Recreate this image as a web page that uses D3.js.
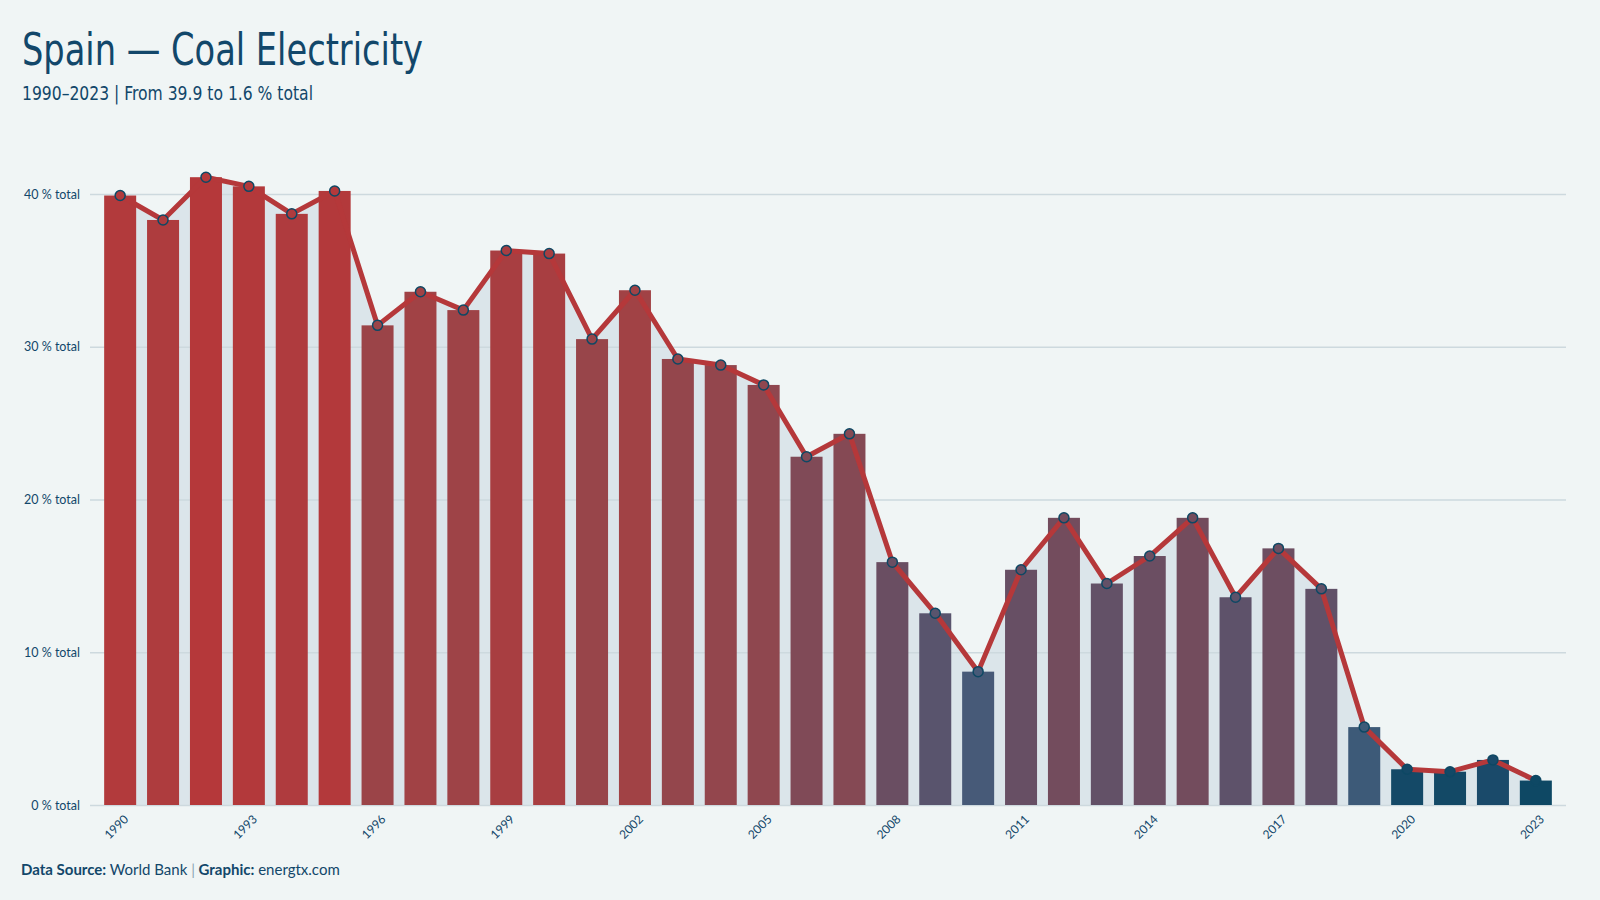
<!DOCTYPE html>
<html>
<head>
<meta charset="utf-8">
<script src="https://cdn.jsdelivr.net/npm/d3@7"></script>
<style>
  html, body { margin: 0; padding: 0; background: #f0f5f5; }
  svg { display: block; }
</style>
</head>
<body>
<svg id="chart" width="1600" height="900"></svg>
<script>
const years = [1990,1991,1992,1993,1994,1995,1996,1997,1998,1999,2000,2001,2002,2003,2004,2005,2006,2007,2008,2009,2010,2011,2012,2013,2014,2015,2016,2017,2018,2019,2020,2021,2022,2023];
const coalShare = [39.9,38.3,41.1,40.5,38.7,40.2,31.4,33.6,32.4,36.3,36.1,30.5,33.7,29.2,28.8,27.5,22.8,24.3,15.9,12.55,8.73,15.4,18.8,14.5,16.3,18.8,13.6,16.8,14.15,5.1,2.34,2.18,2.95,1.6];
const yTicks = [0,10,20,30,40];
const xTickYears = [1990,1993,1996,1999,2002,2005,2008,2011,2014,2017,2020,2023];
const titleText = "Spain \u2014 Coal Electricity";
const subtitleText = "1990\u20132023 | From 39.9 to 1.6 % total";

const BG = "#f0f5f5", INK = "#12476a", RED = "#b5383a", BLUE = "#0e4864";
const svg = d3.select("#chart");
svg.append("rect").attr("width",1600).attr("height",900).attr("fill",BG);

const data = years.map((y,i)=>({year:y, v:coalShare[i]}));

const x = d3.scaleBand().domain(years).range([90,1566]).paddingInner(0.254).paddingOuter(0.33);
const y = d3.scaleLinear().domain([0,40]).range([805,194]);
const [vmin, vmax] = d3.extent(coalShare);
// colour ramp: dark navy (lowest) -> steel blue -> muted purple -> red (highest)
const color = d3.scaleLinear()
  .domain([vmin, 3, 5, 9, 16, 31, vmax])
  .range([BLUE, "#1a4a6a", "#3d5a78", "#485a78", "#6a4e62", "#9a4549", RED])
  .clamp(true);
const cx = d => x(d.year) + x.bandwidth()/2;

// area under line
svg.append("path").datum(data)
  .attr("d", d3.area().x(cx).y0(y(0)).y1(d=>y(d.v)))
  .attr("fill","#dbe5ea");

// gridlines + y labels
const yAxis = d3.axisLeft(y).tickValues(yTicks).tickSize(-(1566-90)).tickFormat(d=>d+" % total");
const gy = svg.append("g").attr("transform","translate(90,0)").call(yAxis);
gy.select(".domain").remove();
gy.selectAll(".tick line").attr("stroke","#cdd9de").attr("stroke-width",1.5);
gy.selectAll(".tick text").attr("x",-10).attr("fill",INK)
  .attr("font-family","Lato, 'Open Sans', sans-serif").attr("font-size",12.5);

// bars
svg.append("g").selectAll("rect").data(data).join("rect")
  .attr("x", d=>x(d.year)).attr("width", x.bandwidth())
  .attr("y", d=>y(d.v)).attr("height", d=>y(0)-y(d.v))
  .attr("fill", d=>color(d.v));

// line
svg.append("path").datum(data)
  .attr("d", d3.line().x(cx).y(d=>y(d.v)))
  .attr("fill","none").attr("stroke",RED).attr("stroke-width",5).attr("stroke-linejoin","round");

// points
svg.append("g").selectAll("circle").data(data).join("circle")
  .attr("cx", cx).attr("cy", d=>y(d.v)).attr("r",5)
  .attr("fill", d=>color(d.v)).attr("stroke", BLUE).attr("stroke-width",1.5);

// x axis labels
const xAxis = d3.axisBottom(x).tickValues(xTickYears).tickSize(0);
const gx = svg.append("g").attr("transform","translate(0,805)").call(xAxis);
gx.select(".domain").remove();
gx.selectAll(".tick text")
  .attr("fill",INK).attr("font-family","Lato, 'Open Sans', sans-serif").attr("font-size",12)
  .attr("text-anchor","end").attr("transform","translate(6,12) rotate(-45)").attr("dy","0.35em").attr("y",0);

// title
svg.append("text").attr("x",22).attr("y",65).text(titleText)
  .attr("fill",INK).attr("font-family","'DejaVu Sans Condensed','DejaVu Sans',sans-serif").attr("font-size",44)
  .attr("textLength",401).attr("lengthAdjust","spacingAndGlyphs");
svg.append("text").attr("x",22).attr("y",100).text(subtitleText)
  .attr("fill",INK).attr("font-family","'DejaVu Sans Condensed','DejaVu Sans',sans-serif").attr("font-size",20)
  .attr("textLength",291).attr("lengthAdjust","spacingAndGlyphs");

// footer
const ft = svg.append("text").attr("x",21).attr("y",875)
  .attr("fill",INK).attr("font-family","Lato, 'Open Sans', sans-serif").attr("font-size",15);
ft.append("tspan").attr("font-weight","bold").text("Data Source:");
ft.append("tspan").text(" World Bank ");
ft.append("tspan").attr("fill","#8aa3b3").text("|");
ft.append("tspan").attr("font-weight","bold").text(" Graphic:");
ft.append("tspan").text(" energtx.com");
</script>
</body>
</html>
